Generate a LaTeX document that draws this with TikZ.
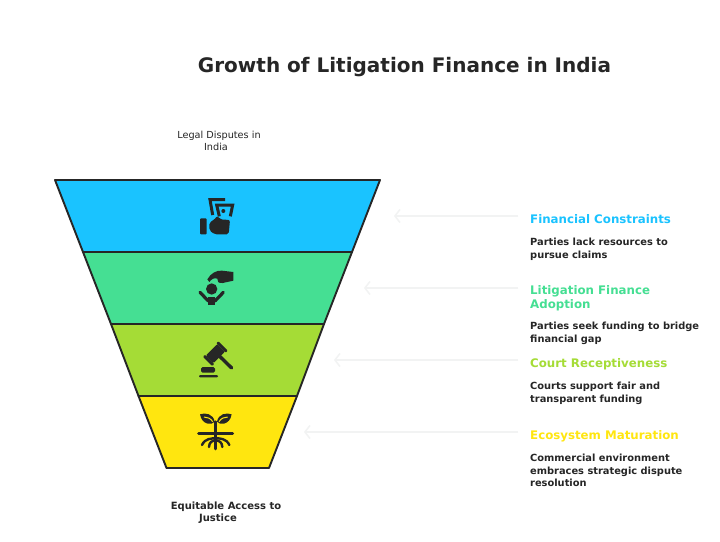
\documentclass[tikz,border=0pt]{standalone}
\usepackage{fontspec}
\setmainfont{DejaVu Sans}
\usetikzlibrary{arrows.meta}
\definecolor{ink}{HTML}{262626}
\definecolor{cblue}{HTML}{1AC3FF}
\definecolor{cgreen}{HTML}{45DF93}
\definecolor{clime}{HTML}{A5DC36}
\definecolor{cyellow}{HTML}{FFE60F}
\definecolor{arrowgrey}{HTML}{F2F3F3}
\tikzset{
  band/.style={draw=ink,line width=1.9pt,line join=round},
  titletext/.style={anchor=base,font=\fontsize{20}{24}\bfseries\selectfont,text=ink,inner sep=0pt},
  captext/.style={align=center,font=\fontsize{9.7}{12}\selectfont,text=ink,inner sep=0pt},
  boldcap/.style={align=center,font=\fontsize{10}{12}\bfseries\selectfont,text=ink,inner sep=0pt},
  headtext/.style={anchor=north west,align=left,font=\fontsize{11.8}{14}\bfseries\selectfont,inner sep=0pt},
  bodytext/.style={anchor=north west,align=left,font=\fontsize{9.85}{12.5}\bfseries\selectfont,text=ink,inner sep=0pt},
  pointer/.style={draw=arrowgrey,line width=1.5pt,-{Straight Barb[length=5pt,width=13pt,line width=1.5pt]}},
  iconline/.style={draw=ink,line width=3pt,fill=none,line join=miter},
}
\begin{document}
\begin{tikzpicture}[x=1pt,y=-1pt]
\useasboundingbox (0,0) rectangle (720,541);
\fill[white] (0,0) rectangle (720,541);

\node[titletext] (title) at (404.5,72.5) {Growth of Litigation Finance in India};
\node[captext] (top) at (219,140.5) {Legal Disputes in\\India\hspace*{6pt}};
\node[boldcap] (bottom) at (226,513) {Equitable Access to\\Justice\hspace*{16pt}};

\draw[band,fill=cblue] (55,180) -- (380,180) -- (352,252) -- (83,252) -- cycle;
\draw[band,fill=cgreen] (83,252) -- (352,252) -- (324,324) -- (111,324) -- cycle;
\draw[band,fill=clime] (111,324) -- (324,324) -- (297,396) -- (138.5,396) -- cycle;
\draw[band,fill=cyellow] (138.5,396) -- (297,396) -- (269,468) -- (166.5,468) -- cycle;

% icon 1: hand with notes
\begin{scope}[shift={(180,185)},scale=1/3]
  \fill[ink,rounded corners=1pt] (60,100) rectangle (80,148);
  \fill[ink,rounded corners=2pt] (88,112) -- (102,105) -- (112,92) -- (120,103) -- (150,105) -- (146,148) -- (104,148) -- (88,136) -- cycle;
  \draw[iconline] (98,90) -- (90,44) -- (135,44);
  \draw[iconline] (118,94) -- (110,60) -- (158,60) -- (151,94);
  \fill[ink] (130,78) circle (6);
\end{scope}

% icon 2: hand over person
\begin{scope}[shift={(180,260)},scale=1/3]
  \fill[ink] (82,58) .. controls (92,40) and (110,30) .. (126,32) -- (160,36) -- (160,62) -- (128,69) .. controls (116,71) and (110,64) .. (112,56) .. controls (102,52) and (94,58) .. (88,66) -- cycle;
  \fill[ink] (95,87) circle (17);
  \draw[ink,line width=3.2pt,line cap=round,line join=round] (60,97) -- (84,122) -- (106,122) -- (130,97);
  \fill[ink] (84,110) rectangle (106,134);
\end{scope}

% icon 3: gavel
\begin{scope}[shift={(180,332)},scale=1/3]
  \begin{scope}[shift={(106,65)},rotate=45]
    \fill[ink,rounded corners=1pt] (-24,-16) rectangle (24,16);
    \fill[ink,rounded corners=1pt] (-33,-20) rectangle (-24,20);
    \fill[ink,rounded corners=1pt] (24,-20) rectangle (33,20);
  \end{scope}
  \draw[ink,line width=3.4pt,line cap=round] (118,72) -- (155,108);
  \fill[ink,rounded corners=1.5pt] (63,105) rectangle (105,122);
  \fill[ink,rounded corners=1pt] (57,129) rectangle (114,136);
\end{scope}

% icon 4: plant with roots
\begin{scope}[shift={(180,405)},scale=1/3]
  \fill[ink] (60,28) .. controls (75,22) and (100,26) .. (104,50) .. controls (98,60) and (66,62) .. cycle;
  \fill[ink] (155,28) .. controls (140,22) and (115,26) .. (111,50) .. controls (117,60) and (149,62) .. cycle;
  \draw[cyellow,line width=1pt] (72,36) .. controls (82,36) and (92,40) .. (98,50);
  \draw[cyellow,line width=1pt] (143,36) .. controls (133,36) and (123,40) .. (117,50);
  \draw[ink,line width=2.6pt,line cap=round] (107,50) -- (107,132);
  \draw[ink,line width=3pt,line cap=round] (56,85) -- (158,85);
  \draw[ink,line width=2.4pt,line cap=round] (107,100) .. controls (95,100) and (75,100) .. (66,120);
  \draw[ink,line width=2.4pt,line cap=round] (107,100) .. controls (119,100) and (139,100) .. (148,120);
  \draw[ink,line width=2.4pt,line cap=round] (105,106) .. controls (95,108) and (88,112) .. (87,126);
  \draw[ink,line width=2.4pt,line cap=round] (109,106) .. controls (119,108) and (126,112) .. (127,126);
\end{scope}

% pointers
\coordinate (p1a) at (518,216); \coordinate (p1b) at (394,216);
\coordinate (p2a) at (518,288); \coordinate (p2b) at (364,288);
\coordinate (p3a) at (518,360); \coordinate (p3b) at (334,360);
\coordinate (p4a) at (518,432); \coordinate (p4b) at (304,432);
\draw[pointer] (p1a) -- (p1b);
\draw[pointer] (p2a) -- (p2b);
\draw[pointer] (p3a) -- (p3b);
\draw[pointer] (p4a) -- (p4b);

% right-hand labels
\node[headtext,text=cblue] (h1) at (530,214) {Financial Constraints};
\node[bodytext] (b1) at (530,238) {Parties lack resources to\\pursue claims};
\node[headtext,text=cgreen] (h2) at (530,285) {Litigation Finance\\Adoption};
\node[bodytext] (b2) at (530,322) {Parties seek funding to bridge\\financial gap};
\node[headtext,text=clime] (h3) at (530,358) {Court Receptiveness};
\node[bodytext] (b3) at (530,382) {Courts support fair and\\transparent funding};
\node[headtext,text=cyellow] (h4) at (530,430) {Ecosystem Maturation};
\node[bodytext] (b4) at (530,454) {Commercial environment\\embraces strategic dispute\\resolution};
\end{tikzpicture}
\end{document}
